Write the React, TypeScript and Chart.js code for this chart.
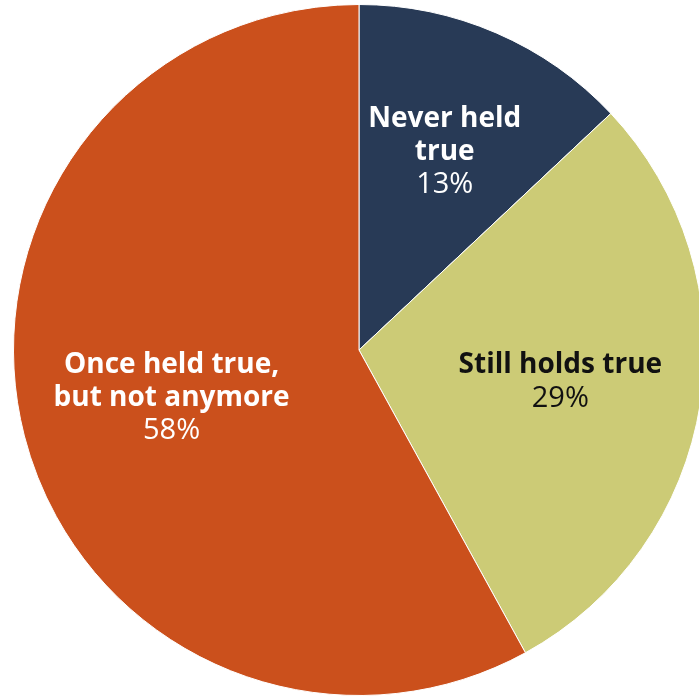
import React, { useEffect, useRef } from "react";
import { Chart, registerables } from "chart.js";

Chart.register(...registerables);

const categories = ["Never held true", "Still holds true", "Once held true, but not anymore"];
const labelLines = [["Never held", "true"], ["Still holds true"], ["Once held true,", "but not anymore"]];
const values = [13, 29, 58];
const colors = ["#283a56", "#cccb76", "#cb501c"];
const textColors = ["#ffffff", "#111111", "#ffffff"];
const labelRadius = [0.625, 0.59, 0.56];

const FONT = "'Open Sans', Lato, sans-serif";

const labelPlugin = {
  id: "sliceLabels",
  afterDatasetsDraw(chart: any) {
    const ctx = chart.ctx;
    const meta = chart.getDatasetMeta(0);
    meta.data.forEach((arc: any, i: number) => {
      const { x, y, startAngle, endAngle, outerRadius } = arc.getProps(
        ["x", "y", "startAngle", "endAngle", "outerRadius"],
        true
      );
      const mid = (startAngle + endAngle) / 2;
      const r = outerRadius * labelRadius[i];
      const cx = x + Math.cos(mid) * r;
      const cy = y + Math.sin(mid) * r;
      const lines = labelLines[i];
      const lh = 33;
      const total = lines.length + 1;
      const top = cy - ((total - 1) * lh) / 2;
      ctx.save();
      ctx.fillStyle = textColors[i];
      ctx.textAlign = "center";
      ctx.textBaseline = "middle";
      lines.forEach((ln, k) => {
        ctx.font = "bold 28px " + FONT;
        ctx.fillText(ln, cx, top + k * lh);
      });
      ctx.font = "normal 29px " + FONT;
      ctx.fillText(values[i] + "%", cx, top + lines.length * lh);
      ctx.restore();
    });
  },
};

export default function App() {
  const ref = useRef<HTMLCanvasElement | null>(null);
  useEffect(() => {
    if (!ref.current) return;
    const chart = new Chart(ref.current, {
      type: "pie",
      data: {
        labels: categories,
        datasets: [
          {
            data: values,
            backgroundColor: colors,
            borderColor: "#ffffff",
            borderWidth: 1,
          },
        ],
      },
      options: {
        animation: false,
        responsive: false,
        maintainAspectRatio: false,
        layout: { padding: 4 },
        plugins: { legend: { display: false }, tooltip: { enabled: false } },
      },
      plugins: [labelPlugin],
    });
    return () => chart.destroy();
  }, []);
  return (
    <div
      style={{
        position: "absolute",
        left: 0,
        top: 0,
        width: 699,
        height: 698,
        overflow: "hidden",
        background: "#ffffff",
      }}
    >
      <canvas ref={ref} width={718} height={700} style={{ display: "block" }} />
    </div>
  );
}
